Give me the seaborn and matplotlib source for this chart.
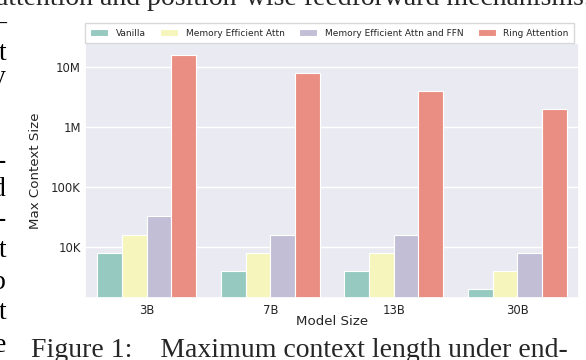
import numpy as np
import pandas as pd
import seaborn as sns
import matplotlib
matplotlib.use("Agg")
import matplotlib.pyplot as plt
from matplotlib.ticker import FixedLocator, FixedFormatter, NullLocator

# ---- data ----
model_sizes = ["3B", "7B", "13B", "30B"]
methods = ["Vanilla", "Memory Efficient Attn", "Memory Efficient Attn and FFN", "Ring Attention"]
vanilla = [8e3, 4e3, 4e3, 2e3]
mem_eff_attn = [16e3, 8e3, 8e3, 4e3]
mem_eff_attn_ffn = [32e3, 16e3, 16e3, 8e3]
ring_attention = [16e6, 8e6, 4e6, 2e6]
ytick_values = [1e4, 1e5, 1e6, 1e7]
ytick_labels = ["10K", "100K", "1M", "10M"]

rows = []
for name, vals in zip(methods, [vanilla, mem_eff_attn, mem_eff_attn_ffn, ring_attention]):
    for m, v in zip(model_sizes, vals):
        rows.append({"Model Size": m, "Method": name, "Max Context Size": v})
df = pd.DataFrame(rows)

sns.set_theme(style="darkgrid")
plt.rcParams["font.family"] = ["DejaVu Sans"]

fig = plt.figure(figsize=(5.86, 3.60), dpi=100)
ax = fig.add_axes([85 / 586, 1 - 298 / 360, (579 - 85) / 586, (298 - 43) / 360])

sns.barplot(data=df, x="Model Size", y="Max Context Size", hue="Method",
            order=model_sizes, hue_order=methods, palette="Set3",
            edgecolor="white", linewidth=0.8, ax=ax)
ax.set_yscale("log")
ax.set_ylim(1.4e3, 2.5e7)
ax.set_xlim(-0.5, 3.5)
ax.yaxis.set_major_locator(FixedLocator(ytick_values))
ax.yaxis.set_major_formatter(FixedFormatter(ytick_labels))
ax.yaxis.set_minor_locator(NullLocator())
ax.tick_params(axis="both", labelsize=8.4, length=0)
ax.tick_params(axis="y", pad=3)
ax.tick_params(axis="x", pad=4)
ax.set_xlabel("Model Size", fontsize=9.6)
ax.set_ylabel("Max Context Size", fontsize=9.6)
ax.xaxis.set_label_coords(0.5, -0.065)
ax.yaxis.set_label_coords(-0.087, 0.5)

handles, labels = ax.get_legend_handles_labels()
ax.legend_.remove()
leg = ax.legend(handles, labels, loc="lower left", bbox_to_anchor=(0.0, 1.0, 0.99, 0.07),
                mode="expand", ncol=4, fontsize=6.5, frameon=True, borderaxespad=0,
                handlelength=2.0, handleheight=0.7, fancybox=False, borderpad=0.6)
leg.get_frame().set_facecolor("white")
leg.get_frame().set_edgecolor("#d0d0d0")

# surrounding page text (cropped)
serif = ["Liberation Serif", "DejaVu Serif"]
fig.text(-4 / 586, 1 - 5 / 360, "attention and position-wise feedforward mechanisms.",
         family=serif, fontsize=20, va="baseline", ha="left")
fig.text(31 / 586, 1 - 357 / 360, "Figure 1:    Maximum context length under end-",
         family=serif, fontsize=20, va="baseline", ha="left")
left_frags = [("\u2013", 30), ("t", 60), ("y", 84), ("-", 168), ("d", 196),
              ("-", 226), ("t", 257), ("b", 289), ("t", 319), ("e", 352)]
for ch, yb in left_frags:
    fig.text(6 / 586, 1 - yb / 360, ch, family=serif, fontsize=20,
             va="baseline", ha="right", color="black")

fig.savefig("out.png", dpi=100)
